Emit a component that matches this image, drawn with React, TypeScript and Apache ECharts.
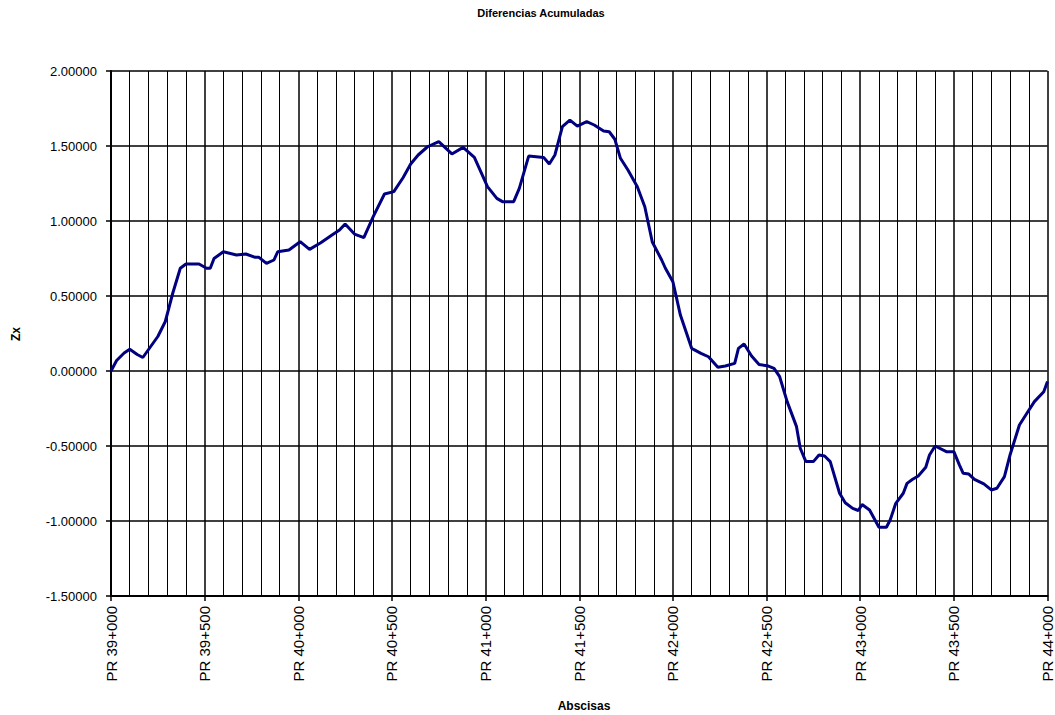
import React, { useEffect, useRef } from "react";
import * as echarts from "echarts";

const TITLE = "Diferencias Acumuladas";
const X_NAME = "Abscisas";
const Y_NAME = "Zx";

// abscissa (m) of each point
const abscisas: number[] = [
  39000, 39030, 39070, 39100, 39140, 39170, 39210, 39250, 39290, 39330,
  39370, 39400, 39470, 39510, 39530, 39550, 39600, 39670, 39720, 39770,
  39790, 39830, 39870, 39890, 39950, 40010, 40060, 40120, 40180, 40220,
  40250, 40300, 40350, 40400, 40460, 40510, 40560, 40600, 40640, 40690,
  40750, 40820, 40880, 40940, 41010, 41060, 41090, 41150, 41180, 41230,
  41310, 41340, 41370, 41410, 41450, 41490, 41540, 41580, 41630, 41660,
  41690, 41720, 41760, 41810, 41850, 41890, 41940, 41960, 42000, 42040,
  42100, 42150, 42190, 42240, 42280, 42330, 42350, 42380, 42420, 42460,
  42510, 42540, 42570, 42610, 42660, 42680, 42710, 42750, 42780, 42810,
  42840, 42890, 42920, 42960, 42990, 43010, 43050, 43100, 43140, 43160,
  43190, 43230, 43250, 43280, 43310, 43350, 43370, 43400, 43460, 43500,
  43530, 43550, 43580, 43610, 43660, 43700, 43730, 43770, 43800, 43850,
  43890, 43930, 43980, 44000,
];

// Zx values
const zx: number[] = [
  0.0, 0.07, 0.12, 0.145, 0.11, 0.09, 0.16, 0.23, 0.33, 0.52,
  0.685, 0.713, 0.713, 0.685, 0.685, 0.75, 0.795, 0.773, 0.78, 0.758,
  0.758, 0.718, 0.74, 0.795, 0.807, 0.862, 0.811, 0.855, 0.907, 0.94,
  0.98, 0.913, 0.889, 1.029, 1.18, 1.196, 1.29, 1.38, 1.44, 1.495,
  1.529, 1.447, 1.491, 1.424, 1.229, 1.151, 1.129, 1.129, 1.218, 1.433,
  1.424, 1.38, 1.44, 1.629, 1.673, 1.633, 1.662, 1.64, 1.6, 1.595,
  1.545, 1.418, 1.34, 1.229, 1.095, 0.86, 0.74, 0.685, 0.595, 0.373,
  0.151, 0.118, 0.095, 0.025, 0.033, 0.051, 0.151, 0.18, 0.1, 0.044,
  0.033, 0.018, -0.038, -0.204, -0.371, -0.515, -0.604, -0.604, -0.56, -0.567,
  -0.604, -0.815, -0.878, -0.916, -0.93, -0.89, -0.927, -1.042, -1.042, -0.993,
  -0.882, -0.815, -0.749, -0.722, -0.7, -0.642, -0.56, -0.5, -0.538, -0.538,
  -0.627, -0.682, -0.687, -0.722, -0.753, -0.793, -0.782, -0.704, -0.56, -0.36,
  -0.282, -0.204, -0.138, -0.07,
];

const Y_MIN = -1.5;
const Y_MAX = 2.0;
const Y_STEP = 0.5;
const X_MIN = 39000;
const X_MAX = 44000;
const X_STEP = 500;

const FONT = "'Liberation Sans', Arial, sans-serif";

function fmtPR(v: number): string {
  const km = Math.floor(v / 1000);
  const m = Math.round(v - km * 1000);
  return "PR " + km + "+" + String(m).padStart(3, "0");
}

export default function App() {
  const ref = useRef<HTMLDivElement>(null);
  useEffect(() => {
    if (!ref.current) return;
    const chart = echarts.init(ref.current, null, { renderer: "svg" });
    const data = abscisas.map((x, i) => [x, zx[i]]);
    chart.setOption({
      animation: false,
      backgroundColor: "#ffffff",
      textStyle: { fontFamily: FONT },
      graphic: [
        {
          type: "text",
          x: 541,
          y: 13,
          style: {
            text: TITLE,
            font: "bold 11px " + FONT,
            fill: "#000",
            textAlign: "center",
            textVerticalAlign: "middle",
          },
        },
        {
          type: "text",
          x: 584,
          y: 706,
          style: {
            text: X_NAME,
            font: "bold 12px " + FONT,
            fill: "#000",
            textAlign: "center",
            textVerticalAlign: "middle",
          },
        },
        {
          type: "text",
          x: 16,
          y: 334,
          rotation: Math.PI / 2,
          style: {
            text: Y_NAME,
            font: "bold 12px " + FONT,
            fill: "#000",
            textAlign: "center",
            textVerticalAlign: "middle",
          },
        },
      ],
      grid: { left: 111, right: 6, top: 71, bottom: 119, containLabel: false },
      xAxis: {
        type: "value",
        min: X_MIN,
        max: X_MAX,
        interval: X_STEP,
        axisLine: { show: true, onZero: false, lineStyle: { color: "#000", width: 2 } },
        axisTick: { show: true, length: 5, lineStyle: { color: "#000", width: 1.5 } },
        minorTick: { show: false, splitNumber: 5 },
        minorSplitLine: { show: true, lineStyle: { color: "#000", width: 1 } },
        splitLine: { show: true, lineStyle: { color: "#000", width: 1.5 } },
        axisLabel: {
          rotate: 90,
          margin: 10,
          fontSize: 15,
          color: "#000",
          fontFamily: FONT,
          formatter: (v: number) => fmtPR(v),
          showMinLabel: true,
          showMaxLabel: true,
        },
      },
      yAxis: {
        type: "value",
        min: Y_MIN,
        max: Y_MAX,
        interval: Y_STEP,
        axisLine: { show: true, lineStyle: { color: "#000", width: 2 } },
        axisTick: { show: true, length: 5, lineStyle: { color: "#000", width: 1.5 } },
        splitLine: { show: true, lineStyle: { color: "#000", width: 1.5 } },
        axisLabel: {
          margin: 14,
          fontSize: 13,
          color: "#000",
          fontFamily: FONT,
          formatter: (v: number) => v.toFixed(5),
        },
      },
      series: [
        {
          type: "line",
          data,
          symbol: "none",
          smooth: false,
          lineStyle: { color: "#000080", width: 3 },
        },
      ],
    });
    return () => chart.dispose();
  }, []);
  return (
    <div
      ref={ref}
      style={{ position: "fixed", left: 0, top: 0, width: 1055, height: 715, background: "#fff" }}
    />
  );
}
